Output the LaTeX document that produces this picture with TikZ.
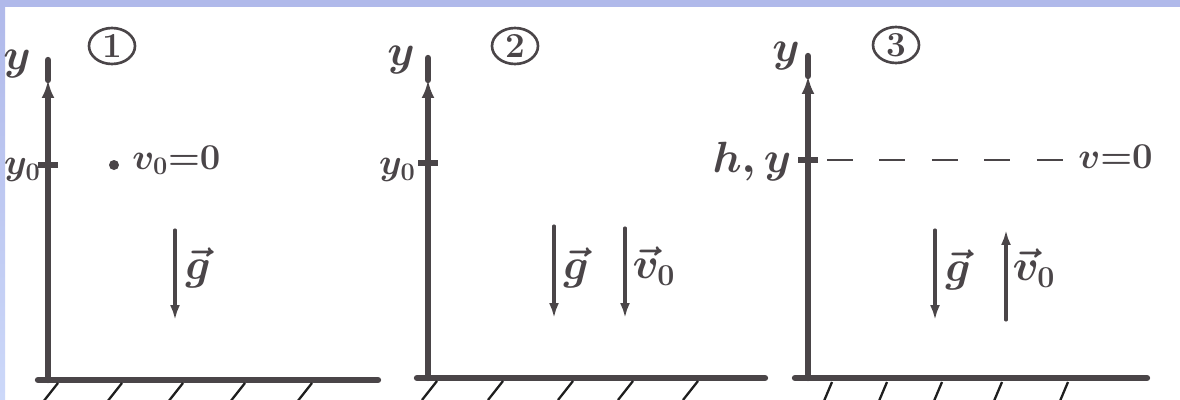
\documentclass[tikz,border=0pt]{standalone}
\usetikzlibrary{arrows.meta,shapes.geometric}
\definecolor{ink}{HTML}{4A4548}
\definecolor{hatchink}{HTML}{1E1E1E}
\definecolor{frametop}{HTML}{B0B9EA}
\definecolor{frameleft}{HTML}{CCD8F9}
\tikzset{
  axis/.style={ink, line width=3.6pt, line cap=round},
  axistip/.style={-{Latex[length=0.36cm,width=0.26cm]}},
  ytick/.style={ink, line width=3pt},
  vec/.style={ink, line width=1.8pt, line cap=round, -{Latex[length=0.3cm,width=0.2cm]}},
  hatch/.style={hatchink, line width=1.3pt},
  dashline/.style={ink, line width=1.6pt, dash pattern=on 0.52cm off 0.53cm},
  lbl/.style={ink, inner sep=0pt, font=\fontsize{23pt}{27pt}\selectfont\boldmath},
  eqlbl/.style={ink, inner sep=0pt, font=\fontsize{21pt}{25pt}\selectfont\boldmath},
  ticklbl/.style={ink, inner sep=0pt, anchor=east, font=\fontsize{20pt}{24pt}\selectfont\boldmath},
  numbox/.style={ellipse, draw=ink, line width=1.5pt, minimum width=0.92cm, minimum height=0.72cm, inner sep=0pt, ink, font=\fontsize{20pt}{24pt}\selectfont\bfseries},
  dot/.style={circle, fill=ink, minimum size=0.2cm, inner sep=0pt}
}
\begin{document}
\begin{tikzpicture}[x=0.02cm, y=-0.02cm]
    \useasboundingbox (0,0) rectangle (1180,399);
    \fill[white] (0,0) rectangle (1180,399);
    % 0. Khung nền
    \shade[top color=frametop, bottom color=frameleft] (0,0) rectangle (5,399);
    \fill[frametop] (0,0) rectangle (1180,7);

    % 1. Hình 1: vật thả rơi từ y0
    \coordinate (O1) at (48,380);
    \coordinate (A1) at (48,80);
    \coordinate (Y1) at (48,60);
    \coordinate (X1a) at (38,380);
    \coordinate (X1) at (378,380);
    \coordinate (T1) at (48,165);
    \draw[axis] (X1a) -- (X1);
    \draw[axis, axistip] (O1) -- (A1);
    \draw[axis] (A1) -- (Y1);
    \draw[ytick] (T1) +(-10,0) -- +(10,0);
    \foreach \h in {58,122,183,245,312}
        \draw[hatch] (\h,383) -- ++(-15,19);
    \node[lbl] (y1) at (17,64) {$y$};
    \node[ticklbl] (y01) at (41,170) {$y_0$};
    \node[numbox] (n1) at (112,46) {1};
    \node[dot] (P1) at (114,165) {};
    \node[eqlbl, anchor=west] (v1) at (132,160) {$v_0{=}0$};
    \coordinate (g1s) at (175,230);
    \coordinate (g1e) at (175,320);
    \draw[vec] (g1s) -- (g1e);
    \node[lbl] (g1) at (198,268) {$\vec g$};

    % 2. Hình 2: ném thẳng xuống
    \coordinate (O2) at (428,378);
    \coordinate (A2) at (428,80);
    \coordinate (Y2) at (428,58);
    \coordinate (X2a) at (417,378);
    \coordinate (X2) at (765,378);
    \coordinate (T2) at (428,163);
    \draw[axis] (X2a) -- (X2);
    \draw[axis, axistip] (O2) -- (A2);
    \draw[axis] (A2) -- (Y2);
    \draw[ytick] (T2) +(-10,0) -- +(10,0);
    \foreach \h in {437,503,573,633,698}
        \draw[hatch] (\h,381) -- ++(-15,19);
    \node[lbl] (y2) at (401,60) {$y$};
    \node[ticklbl] (y02) at (416,170) {$y_0$};
    \node[numbox] (n2) at (515,46) {2};
    \coordinate (g2s) at (554,226);
    \coordinate (g2e) at (554,318);
    \draw[vec] (g2s) -- (g2e);
    \node[lbl] (g2) at (576,268) {$\vec g$};
    \coordinate (v2s) at (625,228);
    \coordinate (v2e) at (625,318);
    \draw[vec] (v2s) -- (v2e);
    \node[lbl] (v02) at (654,266) {$\vec v_0$};

    % 3. Hình 3: ném thẳng lên, đạt độ cao h
    \coordinate (O3) at (808,378);
    \coordinate (A3) at (808,76);
    \coordinate (Y3) at (808,56);
    \coordinate (X3a) at (795,378);
    \coordinate (X3) at (1147,378);
    \coordinate (T3) at (808,160);
    \draw[axis] (X3a) -- (X3);
    \draw[axis, axistip] (O3) -- (A3);
    \draw[axis] (A3) -- (Y3);
    \draw[ytick] (T3) +(-10,0) -- +(10,0);
    \foreach \h in {832,887,942,1002,1068}
        \draw[hatch] (\h,382) -- ++(-8,19);
    \node[lbl] (y3) at (786,56) {$y$};
    \node[lbl] (hy3) at (752,162) {$h,y$};
    \node[numbox] (n3) at (896,45) {3};
    \coordinate (D3s) at (827,160);
    \coordinate (D3e) at (1063,160);
    \draw[dashline] (D3s) -- (D3e);
    \node[eqlbl, anchor=west] (v3) at (1078,157) {$v{=}0$};
    \coordinate (g3s) at (935,230);
    \coordinate (g3e) at (935,320);
    \draw[vec] (g3s) -- (g3e);
    \node[lbl] (g3) at (958,270) {$\vec g$};
    \coordinate (v3s) at (1006,320);
    \coordinate (v3e) at (1006,230);
    \draw[vec] (v3s) -- (v3e);
    \node[lbl] (v03) at (1034,268) {$\vec v_0$};
\end{tikzpicture}
\end{document}
